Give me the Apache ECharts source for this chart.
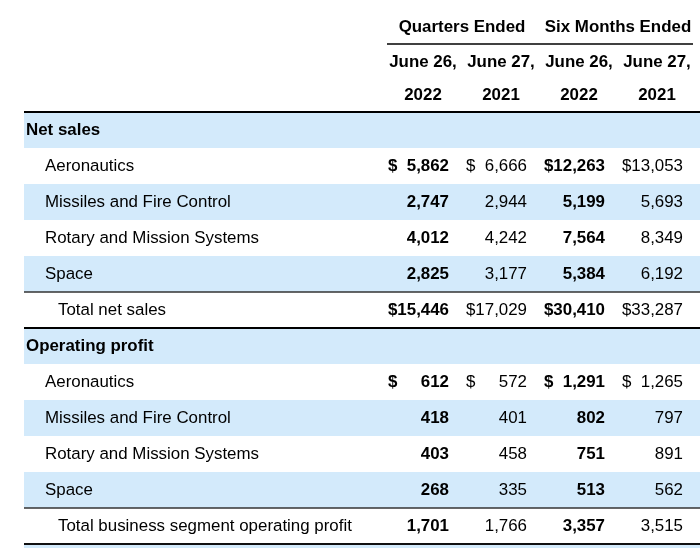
<!DOCTYPE html>
<html>
<head>
<meta charset="utf-8">
<script src="https://cdn.jsdelivr.net/npm/echarts@6/dist/echarts.min.js"></script>
<style>
html,body{margin:0;padding:0;background:#fff;}
#main{width:700px;height:548px;}
</style>
</head>
<body>
<div id="main"></div>
<script>
// ---- data ----
const groupLabels = ['Quarters Ended', 'Six Months Ended'];
const colDates = ['June 26,', 'June 27,', 'June 26,', 'June 27,'];
const colYears = ['2022', '2021', '2022', '2021'];
const rowLabels = ['Net sales', 'Aeronautics', 'Missiles and Fire Control', 'Rotary and Mission Systems', 'Space', 'Total net sales',
  'Operating profit', 'Aeronautics', 'Missiles and Fire Control', 'Rotary and Mission Systems', 'Space', 'Total business segment operating profit'];
const rowLevels = [0, 1, 1, 1, 1, 2, 0, 1, 1, 1, 1, 2];
const q2022 = [null, 5862, 2747, 4012, 2825, 15446, null, 612, 418, 403, 268, 1701];
const q2021 = [null, 6666, 2944, 4242, 3177, 17029, null, 572, 401, 458, 335, 1766];
const s2022 = [null, 12263, 5199, 7564, 5384, 30410, null, 1291, 802, 751, 513, 3357];
const s2021 = [null, 13053, 5693, 8349, 6192, 33287, null, 1265, 797, 891, 562, 3515];
const dollarRows = [1, 5, 7];
const colBold = [true, false, true, false];

// ---- style / layout ----
const FONT = '"Liberation Sans", Arial, Helvetica, sans-serif';
const FS = 16.9;
const BLUE = '#d3eafb';
const TABLE_LEFT = 24;
const INDENT = [2, 21, 34];
const HEADER_ROWS = 3;
const HEADER_DY = [5, 4, 1];
const NUM_RIGHT = 26, DOLLAR_LEFT = -35;
const rules = {2: [2, '#000'], 7: [1.4, '#333'], 8: [2, '#000'], 13: [1.4, '#333'], 14: [2.2, '#111']};

const allCols = [q2022, q2021, s2022, s2021];
const nRows = HEADER_ROWS + rowLabels.length;
const yCats = Array.from({length: nRows}, (_, i) => 'r' + i);

function font(bold) { return (bold ? 'bold ' : '') + FS + 'px ' + FONT; }
function fmt(v) { return Number(v).toLocaleString('en-US'); }

// band / label rows
const bandData = [];
for (let i = HEADER_ROWS; i < nRows; i++) bandData.push([1, i]);

// header items
const headerTexts = [], headerData = [];
groupLabels.forEach((g, k) => { headerTexts.push(g); headerData.push([1.5 + 2 * k, 0]); });
colDates.forEach((d, k) => { headerTexts.push(d); headerData.push([k + 1, 1]); });
colYears.forEach((y, k) => { headerTexts.push(y); headerData.push([k + 1, 2]); });

// value cells
const valueData = [];
allCols.forEach((arr, c) => arr.forEach((v, r) => { if (v !== null) valueData.push([c + 1, r + HEADER_ROWS, v]); }));

const chart = echarts.init(document.getElementById('main'), null, {renderer: 'canvas'});
chart.setOption({
  animation: false,
  backgroundColor: '#fff',
  grid: {left: 384, right: 4, top: 4, height: nRows * 36},
  xAxis: {type: 'value', min: 0.5, max: 4.5, show: false},
  yAxis: {type: 'category', data: yCats, inverse: true, show: false},
  series: [
    {
      type: 'custom', data: bandData, encode: {x: 0, y: 1}, z: 1,
      renderItem: function (params, api) {
        const idx = api.value(1);
        const p = api.coord([1, idx]);
        const h = api.size([0, 1])[1];
        const W = api.getWidth();
        const top = p[1] - h / 2;
        const r = idx - HEADER_ROWS;
        const children = [];
        if ((r % 2) === 0) children.push({type: 'rect', shape: {x: TABLE_LEFT, y: top, width: W - TABLE_LEFT, height: h}, style: {fill: BLUE}});
        if (r === rowLabels.length - 1) children.push({type: 'rect', shape: {x: TABLE_LEFT, y: top + h, width: W - TABLE_LEFT, height: h}, style: {fill: BLUE}});
        children.push({type: 'text', style: {text: rowLabels[r], x: TABLE_LEFT + INDENT[rowLevels[r]], y: p[1], align: 'left', verticalAlign: 'middle', font: font(rowLevels[r] === 0), fill: '#000'}});
        return {type: 'group', children: children};
      }
    },
    {
      type: 'custom', data: yCats.map((c, i) => [1, i]), encode: {x: 0, y: 1}, z: 5,
      renderItem: function (params, api) {
        const idx = api.value(1);
        const rule = rules[idx];
        if (!rule) return null;
        const p = api.coord([1, idx]);
        const h = api.size([0, 1])[1];
        const y = p[1] + h / 2;
        return {type: 'line', shape: {x1: TABLE_LEFT, y1: y, x2: api.getWidth(), y2: y}, style: {stroke: rule[1], lineWidth: rule[0]}};
      }
    },
    {
      type: 'custom', data: headerData, encode: {x: 0, y: 1}, z: 4,
      renderItem: function (params, api) {
        const x = api.value(0), idx = api.value(1);
        const p = api.coord([x, idx]);
        const children = [{type: 'text', style: {text: headerTexts[params.dataIndex], x: p[0], y: p[1] + HEADER_DY[idx], align: 'center', verticalAlign: 'middle', font: font(true), fill: '#000'}}];
        if (params.dataIndex === 0) {
          const a = api.coord([1, 1]), b = api.coord([4, 1]);
          const h = api.size([0, 1])[1];
          const y = a[1] - h / 2 + 4;
          children.push({type: 'line', shape: {x1: a[0] - 36, y1: y, x2: b[0] + 36, y2: y}, style: {stroke: '#000', lineWidth: 1.6}});
        }
        return {type: 'group', children: children};
      }
    },
    {
      type: 'custom', data: valueData, encode: {x: 0, y: 1}, z: 4,
      renderItem: function (params, api) {
        const c = api.value(0), idx = api.value(1), v = api.value(2);
        const p = api.coord([c, idx]);
        const f = font(colBold[c - 1]);
        const children = [{type: 'text', style: {text: fmt(v), x: p[0] + NUM_RIGHT, y: p[1], align: 'right', verticalAlign: 'middle', font: f, fill: '#000'}}];
        if (dollarRows.indexOf(idx - HEADER_ROWS) >= 0) {
          children.push({type: 'text', style: {text: '$', x: p[0] + DOLLAR_LEFT, y: p[1], align: 'left', verticalAlign: 'middle', font: f, fill: '#000'}});
        }
        return {type: 'group', children: children};
      }
    }
  ]
});
</script>
</body>
</html>
